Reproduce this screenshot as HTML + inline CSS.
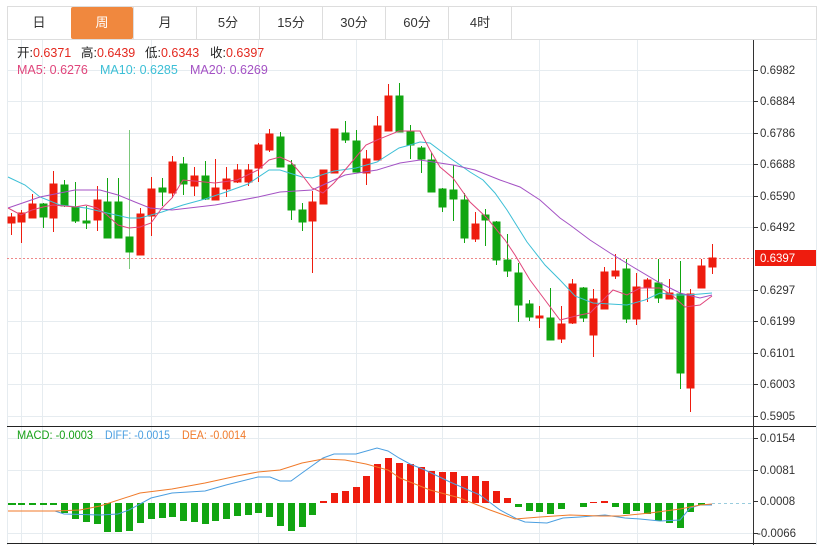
<!DOCTYPE html>
<html><head><meta charset="utf-8"><style>
body{margin:0;width:827px;height:545px;background:#fff;overflow:hidden;font-family:"Liberation Sans","Noto Sans CJK SC",sans-serif}
svg text{font-family:"Liberation Sans","Noto Sans CJK SC",sans-serif}
</style></head><body>
<svg width="827" height="545" xmlns="http://www.w3.org/2000/svg">
<!-- tabs -->
<rect x="7.5" y="6.5" width="809" height="33" fill="#fff" stroke="#ddd"/>
<rect x="71" y="7" width="62" height="32" fill="#f0883e" rx="2"/>
<g stroke="#ddd"><line x1="133.5" y1="7" x2="133.5" y2="39"/><line x1="196.5" y1="7" x2="196.5" y2="39"/><line x1="259.5" y1="7" x2="259.5" y2="39"/><line x1="322.5" y1="7" x2="322.5" y2="39"/><line x1="385.5" y1="7" x2="385.5" y2="39"/><line x1="448.5" y1="7" x2="448.5" y2="39"/><line x1="511.5" y1="7" x2="511.5" y2="39"/></g>
<g font-size="13" fill="#333" text-anchor="middle"><text x="39" y="27">日</text><text x="102" y="27" fill="#fff">周</text><text x="165" y="27">月</text><text x="228" y="27">5分</text><text x="291" y="27">15分</text><text x="354" y="27">30分</text><text x="417" y="27">60分</text><text x="480" y="27">4时</text></g>
<!-- grid -->
<g stroke="#e6ecf0" stroke-width="1">
<line x1="7.5" y1="40" x2="7.5" y2="545"/><line x1="816.5" y1="40" x2="816.5" y2="545"/>
<line x1="21.5" y1="40" x2="21.5" y2="543"/><line x1="42.5" y1="40" x2="42.5" y2="543"/><line x1="151.5" y1="40" x2="151.5" y2="543"/><line x1="258.5" y1="40" x2="258.5" y2="543"/><line x1="356.5" y1="40" x2="356.5" y2="543"/><line x1="442.5" y1="40" x2="442.5" y2="543"/><line x1="539.5" y1="40" x2="539.5" y2="543"/><line x1="637.5" y1="40" x2="637.5" y2="543"/>
<line x1="7" y1="70.5" x2="753" y2="70.5"/><line x1="7" y1="101.5" x2="753" y2="101.5"/><line x1="7" y1="133.5" x2="753" y2="133.5"/><line x1="7" y1="164.5" x2="753" y2="164.5"/><line x1="7" y1="196.5" x2="753" y2="196.5"/><line x1="7" y1="227.5" x2="753" y2="227.5"/><line x1="7" y1="290.5" x2="753" y2="290.5"/><line x1="7" y1="321.5" x2="753" y2="321.5"/><line x1="7" y1="353.5" x2="753" y2="353.5"/><line x1="7" y1="384.5" x2="753" y2="384.5"/><line x1="7" y1="416.5" x2="753" y2="416.5"/>
<line x1="7" y1="438.5" x2="753" y2="438.5"/><line x1="7" y1="470.5" x2="753" y2="470.5"/><line x1="7" y1="533.5" x2="753" y2="533.5"/>
</g>
<line x1="7" y1="426.5" x2="816" y2="426.5" stroke="#222"/>
<line x1="7" y1="543.5" x2="816" y2="543.5" stroke="#222"/>
<line x1="753.5" y1="40" x2="753.5" y2="545" stroke="#333"/>
<!-- price axis -->
<g font-size="11.5" fill="#333"><g stroke="#333">
<line x1="753" y1="70.5" x2="758" y2="70.5"/><line x1="753" y1="101.5" x2="758" y2="101.5"/><line x1="753" y1="133.5" x2="758" y2="133.5"/><line x1="753" y1="164.5" x2="758" y2="164.5"/><line x1="753" y1="196.5" x2="758" y2="196.5"/><line x1="753" y1="227.5" x2="758" y2="227.5"/><line x1="753" y1="290.5" x2="758" y2="290.5"/><line x1="753" y1="321.5" x2="758" y2="321.5"/><line x1="753" y1="353.5" x2="758" y2="353.5"/><line x1="753" y1="384.5" x2="758" y2="384.5"/><line x1="753" y1="416.5" x2="758" y2="416.5"/><line x1="753" y1="438.5" x2="758" y2="438.5"/><line x1="753" y1="470.5" x2="758" y2="470.5"/><line x1="753" y1="501.5" x2="758" y2="501.5"/><line x1="753" y1="533.5" x2="758" y2="533.5"/></g>
<text x="760" y="74">0.6982</text><text x="760" y="105">0.6884</text><text x="760" y="137">0.6786</text><text x="760" y="168">0.6688</text><text x="760" y="200">0.6590</text><text x="760" y="231">0.6492</text><text x="760" y="294">0.6297</text><text x="760" y="325">0.6199</text><text x="760" y="357">0.6101</text><text x="760" y="388">0.6003</text><text x="760" y="420">0.5905</text>
<text x="760" y="442">0.0154</text><text x="760" y="474">0.0081</text><text x="760" y="505">0.0008</text><text x="757" y="537">-0.0066</text></g>
<rect x="755" y="250" width="61" height="16" fill="#ee1c0e"/>
<text x="760" y="262" font-size="11.5" fill="#fff">0.6397</text>
<line x1="7" y1="258.5" x2="753" y2="258.5" stroke="#e88" stroke-dasharray="2,2"/>
<!-- legend -->
<g font-size="12.5">
<text x="17" y="57" fill="#222">开:<tspan fill="#e3281f">0.6371</tspan></text>
<text x="81" y="57" fill="#222">高:<tspan fill="#e3281f">0.6439</tspan></text>
<text x="145" y="57" fill="#222">低:<tspan fill="#e3281f">0.6343</tspan></text>
<text x="210" y="57" fill="#222">收:<tspan fill="#e3281f">0.6397</tspan></text>
<text x="17" y="74" fill="#e0457b">MA5: 0.6276</text>
<text x="100" y="74" fill="#3cbfd6">MA10: 0.6285</text>
<text x="190" y="74" fill="#a452c4">MA20: 0.6269</text>
<text x="17" y="439" fill="#16a016" font-size="12" textLength="76" lengthAdjust="spacingAndGlyphs">MACD: -0.0003</text>
<text x="105" y="439" fill="#4a9ee0" font-size="12" textLength="65" lengthAdjust="spacingAndGlyphs">DIFF: -0.0015</text>
<text x="182" y="439" fill="#f07a2a" font-size="12" textLength="64" lengthAdjust="spacingAndGlyphs">DEA: -0.0014</text></g>
<!-- candles -->
<g id="c" stroke-width="1">
<g fill="#ee1c0e" stroke="#ee1c0e">
<line x1="11.5" y1="213" x2="11.5" y2="235"/><rect x="8" y="217" width="7" height="6"/>
<line x1="21.5" y1="210" x2="21.5" y2="243"/><rect x="18" y="213" width="7" height="9"/>
<line x1="32.5" y1="194" x2="32.5" y2="218"/><rect x="29" y="204" width="7" height="14"/>
<line x1="53.5" y1="171" x2="53.5" y2="232"/><rect x="50" y="184" width="7" height="34"/>
<line x1="97.5" y1="186" x2="97.5" y2="231"/><rect x="94" y="200" width="7" height="20"/>
<line x1="140.5" y1="208" x2="140.5" y2="255"/><rect x="137" y="214" width="7" height="41"/>
<line x1="151.5" y1="177" x2="151.5" y2="236"/><rect x="148" y="189" width="7" height="27"/>
<line x1="172.5" y1="156" x2="172.5" y2="198"/><rect x="169" y="162" width="7" height="31"/>
<line x1="194.5" y1="167" x2="194.5" y2="196"/><rect x="191" y="176" width="7" height="10"/>
<line x1="215.5" y1="159" x2="215.5" y2="200"/><rect x="212" y="188" width="7" height="12"/>
<line x1="226.5" y1="167" x2="226.5" y2="197"/><rect x="223" y="179" width="7" height="10"/>
<line x1="237.5" y1="164" x2="237.5" y2="183"/><rect x="234" y="170" width="7" height="12"/>
<line x1="248.5" y1="164" x2="248.5" y2="186"/><rect x="245" y="170" width="7" height="12"/>
<line x1="258.5" y1="143" x2="258.5" y2="182"/><rect x="255" y="145" width="7" height="23"/>
<line x1="269.5" y1="129" x2="269.5" y2="152"/><rect x="266" y="134" width="7" height="16"/>
<line x1="312.5" y1="191" x2="312.5" y2="273"/><rect x="309" y="202" width="7" height="19"/>
<line x1="323.5" y1="170" x2="323.5" y2="204"/><rect x="320" y="170" width="7" height="34"/>
<line x1="334.5" y1="129" x2="334.5" y2="173"/><rect x="331" y="129" width="7" height="44"/>
<line x1="366.5" y1="150" x2="366.5" y2="185"/><rect x="363" y="159" width="7" height="14"/>
<line x1="377.5" y1="116" x2="377.5" y2="160"/><rect x="374" y="126" width="7" height="34"/>
<line x1="388.5" y1="84" x2="388.5" y2="131"/><rect x="385" y="96" width="7" height="35"/>
<line x1="475.5" y1="212" x2="475.5" y2="242"/><rect x="472" y="224" width="7" height="15"/>
<line x1="539.5" y1="306" x2="539.5" y2="328"/><rect x="536" y="316" width="7" height="2"/>
<line x1="561.5" y1="306" x2="561.5" y2="343"/><rect x="558" y="324" width="7" height="15"/>
<line x1="572.5" y1="279" x2="572.5" y2="324"/><rect x="569" y="284" width="7" height="39"/>
<line x1="593.5" y1="289" x2="593.5" y2="357"/><rect x="590" y="299" width="7" height="36"/>
<line x1="604.5" y1="267" x2="604.5" y2="309"/><rect x="601" y="272" width="7" height="37"/>
<line x1="615.5" y1="254" x2="615.5" y2="279"/><rect x="612" y="271" width="7" height="5"/>
<line x1="636.5" y1="273" x2="636.5" y2="325"/><rect x="633" y="287" width="7" height="32"/>
<line x1="647.5" y1="278" x2="647.5" y2="302"/><rect x="644" y="280" width="7" height="8"/>
<line x1="669.5" y1="279" x2="669.5" y2="299"/><rect x="666" y="293" width="7" height="6"/>
<line x1="690.5" y1="289" x2="690.5" y2="412"/><rect x="687" y="294" width="7" height="94"/>
<line x1="701.5" y1="259" x2="701.5" y2="288"/><rect x="698" y="266" width="7" height="22"/>
<line x1="712.5" y1="244" x2="712.5" y2="274"/><rect x="709" y="258" width="7" height="9"/>
</g>
<g fill="#11a511" stroke="#11a511">
<line x1="43.5" y1="203" x2="43.5" y2="228"/><rect x="40" y="204" width="7" height="13"/>
<line x1="64.5" y1="180" x2="64.5" y2="207"/><rect x="61" y="185" width="7" height="21"/>
<line x1="75.5" y1="182" x2="75.5" y2="223"/><rect x="72" y="207" width="7" height="14"/>
<line x1="86.5" y1="206" x2="86.5" y2="229"/><rect x="83" y="221" width="7" height="2"/>
<line x1="107.5" y1="178" x2="107.5" y2="238"/><rect x="104" y="202" width="7" height="36"/>
<line x1="118.5" y1="178" x2="118.5" y2="238"/><rect x="115" y="202" width="7" height="36"/>
<line x1="129.5" y1="130" x2="129.5" y2="269" stroke="#7cc87c"/><rect x="126" y="237" width="7" height="15"/>
<line x1="162.5" y1="178" x2="162.5" y2="206"/><rect x="159" y="188" width="7" height="4"/>
<line x1="183.5" y1="157" x2="183.5" y2="195"/><rect x="180" y="164" width="7" height="20"/>
<line x1="205.5" y1="161" x2="205.5" y2="200"/><rect x="202" y="176" width="7" height="23"/>
<line x1="280.5" y1="132" x2="280.5" y2="167"/><rect x="277" y="137" width="7" height="30"/>
<line x1="291.5" y1="160" x2="291.5" y2="220"/><rect x="288" y="165" width="7" height="45"/>
<line x1="302.5" y1="203" x2="302.5" y2="231"/><rect x="299" y="210" width="7" height="12"/>
<line x1="345.5" y1="121" x2="345.5" y2="143"/><rect x="342" y="133" width="7" height="7"/>
<line x1="356.5" y1="130" x2="356.5" y2="172"/><rect x="353" y="141" width="7" height="31"/>
<line x1="399.5" y1="83" x2="399.5" y2="132"/><rect x="396" y="96" width="7" height="36"/>
<line x1="410.5" y1="125" x2="410.5" y2="159"/><rect x="407" y="131" width="7" height="14"/>
<line x1="421.5" y1="146" x2="421.5" y2="173"/><rect x="418" y="148" width="7" height="11"/>
<line x1="431.5" y1="153" x2="431.5" y2="192"/><rect x="428" y="160" width="7" height="32"/>
<line x1="442.5" y1="188" x2="442.5" y2="212"/><rect x="439" y="189" width="7" height="18"/>
<line x1="453.5" y1="165" x2="453.5" y2="221"/><rect x="450" y="190" width="7" height="9"/>
<line x1="464.5" y1="193" x2="464.5" y2="243"/><rect x="461" y="200" width="7" height="38"/>
<line x1="485.5" y1="209" x2="485.5" y2="246"/><rect x="482" y="215" width="7" height="5"/>
<line x1="496.5" y1="221" x2="496.5" y2="265"/><rect x="493" y="222" width="7" height="38"/>
<line x1="507.5" y1="234" x2="507.5" y2="277"/><rect x="504" y="260" width="7" height="11"/>
<line x1="518.5" y1="263" x2="518.5" y2="322"/><rect x="515" y="273" width="7" height="32"/>
<line x1="529.5" y1="300" x2="529.5" y2="321"/><rect x="526" y="304" width="7" height="13"/>
<line x1="550.5" y1="288" x2="550.5" y2="340"/><rect x="547" y="318" width="7" height="22"/>
<line x1="583.5" y1="287" x2="583.5" y2="322"/><rect x="580" y="288" width="7" height="30"/>
<line x1="626.5" y1="259" x2="626.5" y2="323"/><rect x="623" y="269" width="7" height="50"/>
<line x1="658.5" y1="259" x2="658.5" y2="303"/><rect x="655" y="283" width="7" height="15"/>
<line x1="680.5" y1="261" x2="680.5" y2="389"/><rect x="677" y="294" width="7" height="79"/>
</g></g>
<!-- MAs -->
<g fill="none" stroke-width="1">
<polyline stroke="#3cbfd6" points="8,177 25,185 40,197 60,205 86,208 107,213 129,218 140,218 162,212 183,205 205,199 226,192 248,184 269,170 280,170 302,177 312,178 334,171 356,168 377,162 399,148 410,145 420,142 430,143 450,158 470,172 483,180 495,193 507,210 517,226 527,242 545,265 560,280 575,296 593,303 627,305 645,300 660,293 675,295 687,295 700,294 712,293"/>
<polyline stroke="#a452c4" points="8,208 40,197 75,190 100,190 118,195 135,202 150,208 172,210 215,205 258,197 280,192 312,190 345,175 377,170 400,163 420,160 453,165 475,170 500,180 520,187 540,200 560,218 570,225 590,240 610,253 633,267 660,283 680,293 700,298 712,295"/>
<polyline stroke="#e0457b" points="8,208 21,215 32,210 43,207 53,205 75,207 86,205 97,208 107,215 118,225 129,228 140,227 151,223 162,208 172,198 183,180 194,181 215,183 237,180 258,170 269,160 280,157 291,162 302,175 312,188 323,193 334,183 345,170 356,157 366,145 377,140 399,131 410,131 420,131 430,150 440,167 453,178 470,202 487,218 505,240 515,255 530,280 545,300 560,320 580,315 590,313 613,290 627,295 640,288 660,288 672,295 685,307 700,305 712,296"/>
</g>
<!-- MACD -->
<line x1="712" y1="503.5" x2="752" y2="503.5" stroke="#9cd" stroke-dasharray="3,3"/>
<g fill="#11a511">
<rect x="8" y="503" width="8" height="2"/><rect x="18" y="503" width="7" height="2"/><rect x="29" y="503" width="7" height="2"/><rect x="40" y="503" width="7" height="2"/><rect x="50" y="503" width="7" height="2"/>
<rect x="61" y="503" width="7" height="10"/><rect x="72" y="503" width="7" height="16"/><rect x="83" y="503" width="7" height="19"/><rect x="94" y="503" width="7" height="21"/><rect x="104" y="503" width="7" height="29"/><rect x="115" y="503" width="7" height="29"/><rect x="126" y="503" width="7" height="28"/><rect x="137" y="503" width="7" height="20"/><rect x="148" y="503" width="7" height="16"/><rect x="159" y="503" width="7" height="15"/><rect x="169" y="503" width="7" height="14"/><rect x="180" y="503" width="7" height="18"/><rect x="191" y="503" width="7" height="19"/><rect x="202" y="503" width="7" height="21"/><rect x="212" y="503" width="7" height="18"/><rect x="223" y="503" width="7" height="16"/><rect x="234" y="503" width="7" height="13"/><rect x="245" y="503" width="7" height="12"/><rect x="255" y="503" width="7" height="10"/><rect x="266" y="503" width="7" height="14"/><rect x="277" y="503" width="7" height="23"/><rect x="288" y="503" width="7" height="28"/><rect x="299" y="503" width="7" height="24"/><rect x="309" y="503" width="7" height="12"/>
<rect x="515" y="504" width="7" height="3"/><rect x="526" y="503" width="7" height="8"/><rect x="536" y="503" width="7" height="9"/><rect x="547" y="503" width="7" height="11"/><rect x="558" y="503" width="7" height="6"/><rect x="580" y="503" width="7" height="4"/><rect x="612" y="503" width="7" height="4"/><rect x="623" y="503" width="7" height="11"/><rect x="633" y="503" width="7" height="8"/><rect x="644" y="503" width="7" height="11"/><rect x="655" y="503" width="7" height="18"/><rect x="666" y="503" width="7" height="20"/><rect x="677" y="503" width="7" height="25"/><rect x="687" y="503" width="7" height="9"/><rect x="698" y="503" width="7" height="2"/>
</g>
<g fill="#ee1c0e">
<rect x="320" y="501" width="7" height="2"/><rect x="331" y="493" width="7" height="10"/><rect x="342" y="491" width="7" height="12"/><rect x="353" y="487" width="7" height="16"/><rect x="363" y="476" width="7" height="27"/><rect x="374" y="464" width="7" height="39"/><rect x="385" y="458" width="7" height="45"/><rect x="396" y="463" width="7" height="40"/><rect x="407" y="464" width="7" height="39"/><rect x="418" y="467" width="7" height="36"/><rect x="428" y="471" width="7" height="32"/><rect x="439" y="472" width="7" height="31"/><rect x="450" y="472" width="7" height="31"/><rect x="461" y="476" width="7" height="27"/><rect x="472" y="476" width="7" height="27"/><rect x="482" y="481" width="7" height="22"/><rect x="493" y="491" width="7" height="12"/><rect x="504" y="498" width="7" height="5"/><rect x="590" y="502" width="7" height="1"/><rect x="601" y="501" width="7" height="2"/>
</g>
<g fill="none" stroke-width="1">
<polyline stroke="#4a9ee0" points="8,511 55,511 64,514 100,515 118,514 129,510 151,498 172,493 205,491 226,485 258,477 270,477 280,481 291,481 302,473 323,458 334,454 356,454 377,448 388,451 399,458 410,464 425,470 450,482 480,495 500,510 517,519 525,522 547,523 563,518 580,517 605,515 625,518 640,519 660,521 680,520 690,508 700,505 712,505"/>
<polyline stroke="#f07a2a" points="8,511 55,511 80,510 100,506 140,493 172,489 205,483 237,476 258,472 280,470 302,463 323,459 345,460 366,464 388,470 400,478 430,490 460,498 490,510 515,519 540,517 570,515 600,516 620,516 650,513 680,509 700,505 712,504"/>
</g>
</svg>
</body></html>
